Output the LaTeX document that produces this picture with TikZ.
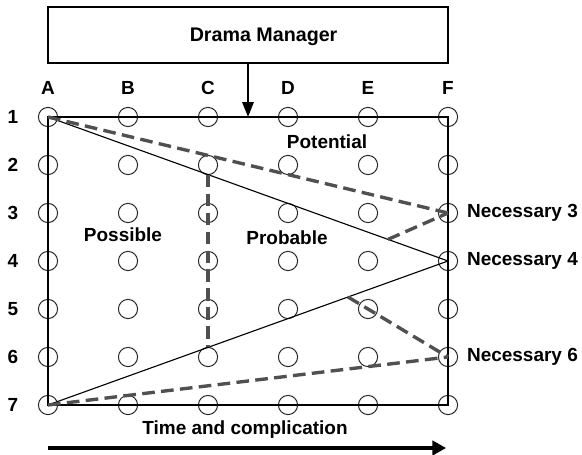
\documentclass[tikz,border=0pt]{standalone}
\usepackage{fontspec}
\setmainfont{Liberation Sans}
\usepackage{tikz}
\usetikzlibrary{arrows.meta, positioning, calc}
\definecolor{mydark}{RGB}{40,40,40}
\definecolor{mygray}{RGB}{80,80,80}
\tikzset{
  dot/.style={circle, draw=mydark, minimum size=0.48cm, inner sep=0pt, line width=0.7pt},
  lbl/.style={font=\fontsize{13.5}{16}\selectfont\bfseries},
  dmbox/.style={rectangle, draw=black, minimum width=10cm, minimum height=1.4cm, line width=1.2pt},
  frame/.style={draw=black, line width=0.9pt},
  solidline/.style={line width=0.8pt, color=black},
  dashline/.style={line width=2.4pt, color=mygray, dash pattern=on 9pt off 4.5pt},
  arrow/.style={-{Triangle[length=0.37cm, width=0.28cm]}, line width=1.4pt, color=black},
  timearrow/.style={-{Triangle[length=0.34cm, width=0.36cm]}, line width=2.2pt, color=black}
}

\begin{document}
\begin{tikzpicture}
  \useasboundingbox (-1.2,2.925) rectangle (13.35,-8.45);

  % Grid of states
  \foreach \c [count=\i from 0] in {A,B,C,D,E,F} {
    \node[lbl] (col\c) at ({2*\i},0.725) {\c};
    \foreach \r in {1,...,7}
      \node[dot] (\c\r) at ({2*\i},{-1.2*(\r-1)}) {};
  }
  \foreach \r in {1,...,7}
    \node[lbl] (row\r) at (-0.875,{-1.2*(\r-1)}) {\r};

  % Frame
  \draw[frame] (A1.center) rectangle (F7.center);

  % Drama manager
  \node[dmbox] (dm) at (5,2.05) {};
  \node[lbl, font=\fontsize{14}{16}\selectfont\bfseries] (dmtext) at (5.39,2.0) {Drama Manager};
  \draw[arrow] (dm.south) -- (dm.south |- A1.center);

  % Cone lines
  \draw[solidline] (A1.center) -- (F4.center);
  \draw[solidline] (A7.center) -- (F4.center);
  \draw[dashline] (A1.center) -- (F3.center);
  \draw[dashline] (A7.center) -- (F6.center);

  % Branches
  \coordinate (ctop) at ($(A1)!0.4!(F4)$);
  \coordinate (cbot) at ($(A7)!0.4!(F4)$);
  \coordinate (up3) at ($(A1)!0.85!(F4)$);
  \coordinate (dn6) at ($(A7)!0.75!(F4)$);
  \draw[dashline] (ctop) -- (cbot);
  \draw[dashline] (up3) -- (F3.center);
  \draw[dashline] (dn6) -- (F6.center);

  % Region labels
  \node[lbl] (pot) at (6.975,-0.625) {Potential};
  \node[lbl] (pos) at (1.875,-2.95) {Possible};
  \node[lbl] (prob) at (5.975,-3.025) {Probable};
  \node[lbl, right=0.1cm of F3] (nec3) {Necessary 3};
  \node[lbl, right=0.1cm of F4] (nec4) {Necessary 4};
  \node[lbl, right=0.1cm of F6] (nec6) {Necessary 6};

  % Time axis
  \coordinate (ts) at (0,-8.275);
  \coordinate (te) at (9.95,-8.275);
  \draw[timearrow] (ts) -- (te);
  \node[lbl] (time) at (4.925,-7.825) {Time and complication};
\end{tikzpicture}
\end{document}
